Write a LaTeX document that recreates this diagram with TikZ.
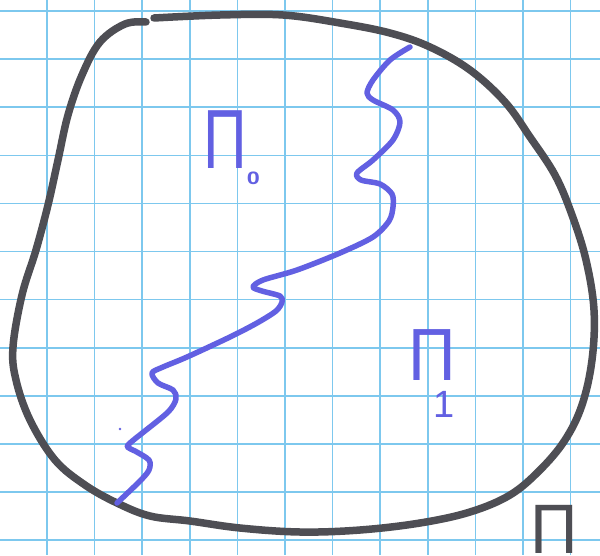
\documentclass[tikz,border=0pt]{standalone}
\usepackage{fontspec}
\setmainfont{Liberation Sans}
\usepackage{tikz}
\definecolor{gridblue}{RGB}{125,200,238}
\definecolor{penblack}{RGB}{78,78,84}
\definecolor{penblue}{RGB}{98,96,226}
\tikzset{
  paper_line/.style = {draw=gridblue, line width=1.6pt},% quadrillage
  outline/.style = {draw=penblack, line width=7.5pt, line cap=round,
    line join=round},% bord de Pi
  cut_line/.style = {draw=penblue, line width=5.5pt, line cap=round,
    line join=round},% coupure
  pi_label/.style = {inner sep=0pt, anchor=base west, text=penblue}
}

\begin{document}
\begin{tikzpicture}[x=1pt, y=-1pt]
  \useasboundingbox (0,0) rectangle (600,555);
  \fill[white] (0,0) rectangle (600,555);
  % papier quadrille
  \foreach \gx in {0,...,11}
    \draw[paper_line] ({47+47.6*\gx},0) -- ({47+47.6*\gx},555);
  \foreach \gy in {0,...,11}
    \draw[paper_line] (0,{11+48.1*\gy}) -- (600,{11+48.1*\gy});
  % bord
  \draw[outline] plot[smooth, tension=0.6] coordinates {
    (154,18) (220,15) (283,15) (340,23) (390,33) (430,47) (470,70)
    (505,102) (530,137) (555,175) (572,215) (586,260) (594,310)
    (592,360) (582,405) (565,440) (540,470) (510,495) (470,512)
    (420,523) (360,530) (300,532) (240,528) (190,521) (150,516)
    (117,503) (85,485) (55,460) (30,420) (16,380) (13,347) (22,295)
    (36,250) (48,205) (58,160) (68,115) (82,75) (100,42) (125,24)
    (146,22)};
  % coupure
  \draw[cut_line] plot[smooth, tension=0.5] coordinates {
    (410,47) (390,60) (373,80) (367,93) (373,100) (393,110) (400,122)
    (393,140) (373,160) (357,173) (361,180) (380,184) (392,194) (393,207)
    (389,221) (373,237) (340,253) (297,270) (263,280) (253,287) (262,291)
    (280,296) (282,302) (276,311) (257,323) (230,337) (187,357) (163,367)
    (152,373) (158,383) (173,390) (176,399) (167,413) (130,443) (129,448)
    (135,451) (149,460) (149,470) (140,481) (117,503)};
  \fill[penblue] (120,429) circle (1.3);
  % etiquettes
  \node[pi_label] (pi_zero) at (203,168)
    {\scalebox{0.72}[1]{\fontsize{84}{84}\selectfont Π}%
     \raisebox{-16pt}{\scalebox{1.3}[1]{\fontsize{18}{18}\selectfont\bfseries 0}}};
  \node[pi_label] (pi_one) at (408,380)
    {\scalebox{0.89}[1]{\fontsize{74}{74}\selectfont Π}%
     \kern-22pt\raisebox{-37pt}{\fontsize{38}{38}\selectfont 1}};
  \node[pi_label, text=penblack] (pi_all) at (530,553)
    {\scalebox{0.94}[1]{\fontsize{70}{70}\selectfont Π}};
\end{tikzpicture}
\end{document}
